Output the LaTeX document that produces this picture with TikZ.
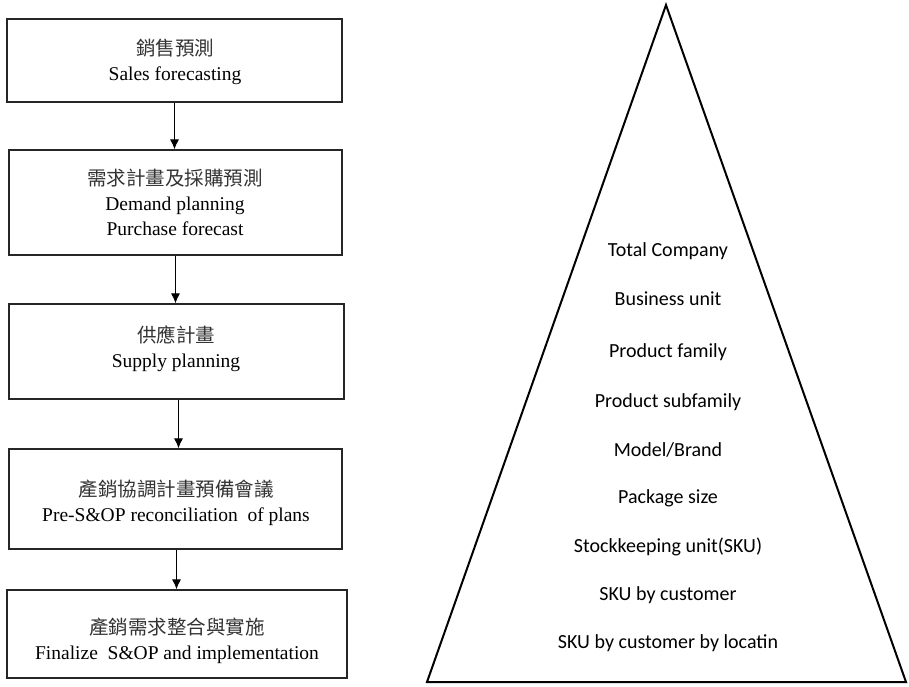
\documentclass[tikz,border=0pt]{standalone}
\usepackage{fontspec}
\setmainfont{Liberation Serif}
\newfontfamily\cjkfont{Noto Sans CJK TC}
\newfontfamily\calfont{Carlito}
\usetikzlibrary{arrows.meta}
\begin{document}
\begin{tikzpicture}[x=1pt,y=-1pt,
  stepbox/.style={draw=black!85, line width=1.3pt, rectangle, inner sep=0pt},
  steptext/.style={align=center, inner sep=0pt, font=\fontsize{19.5}{25}\selectfont},
  flow/.style={line width=1pt, -{Latex[length=10pt,width=9pt]}},
  level/.style={font=\calfont\fontsize{20}{22}\selectfont, inner sep=0pt}]
\useasboundingbox (0,0) rectangle (909,686);
\fill[white] (0,0) rectangle (909,686);

% process steps
\node[stepbox, minimum width=335pt, minimum height=83pt] (b1) at (174.5,60.5) {};
\node[stepbox, minimum width=333pt, minimum height=105pt] (b2) at (175.5,202.5) {};
\node[stepbox, minimum width=335pt, minimum height=95pt] (b3) at (176.5,351.5) {};
\node[stepbox, minimum width=333pt, minimum height=100pt] (b4) at (175.5,499) {};
\node[stepbox, minimum width=340pt, minimum height=88pt] (b5) at (177,634) {};

\node[steptext] (t1) at (175,62) {{\cjkfont\color{black!80}銷售預測}\\Sales forecasting};
\node[steptext] (t2) at (175,202) {{\cjkfont\color{black!80}需求計畫及採購預測}\\Demand planning\\Purchase forecast};
\node[steptext] (t3) at (176,349) {{\cjkfont\color{black!80}供應計畫}\\Supply planning};
\node[steptext] (t4) at (176,503) {{\cjkfont\color{black!80}產銷協調計畫預備會議}\\Pre-S\&OP reconciliation\ \ of plans};
\node[steptext] (t5) at (177,641) {{\cjkfont\color{black!80}產銷需求整合與實施}\\Finalize\ \ S\&OP and implementation};

\draw[flow] (b1.south) -- (b1.south |- b2.north);
\draw[flow] (b2.south) -- (b2.south |- b3.north);
\draw[flow] ([xshift=2pt]b3.south) -- ([xshift=2pt]b3.south |- b4.north);
\draw[flow] ([xshift=1pt]b4.south) -- ([xshift=1pt]b4.south |- b5.north);

% planning hierarchy pyramid
\coordinate (apex) at (666,5);
\coordinate (bl) at (427,682);
\coordinate (br) at (906,682);
\draw[line width=2pt, line join=miter] (apex) -- (br) -- (bl) -- cycle;

\node[level] (l1) at (668,251) {Total Company};
\node[level] (l2) at (668,299) {Business unit};
\node[level] (l3) at (668,352) {Product family};
\node[level] (l4) at (668,402) {Product subfamily};
\node[level] (l5) at (668,450) {Model/Brand};
\node[level] (l6) at (668,498) {Package size};
\node[level] (l7) at (668,547) {Stockkeeping unit(SKU)};
\node[level] (l8) at (668,595) {SKU by customer};
\node[level] (l9) at (668,643) {SKU by customer by locatin};
\end{tikzpicture}
\end{document}
